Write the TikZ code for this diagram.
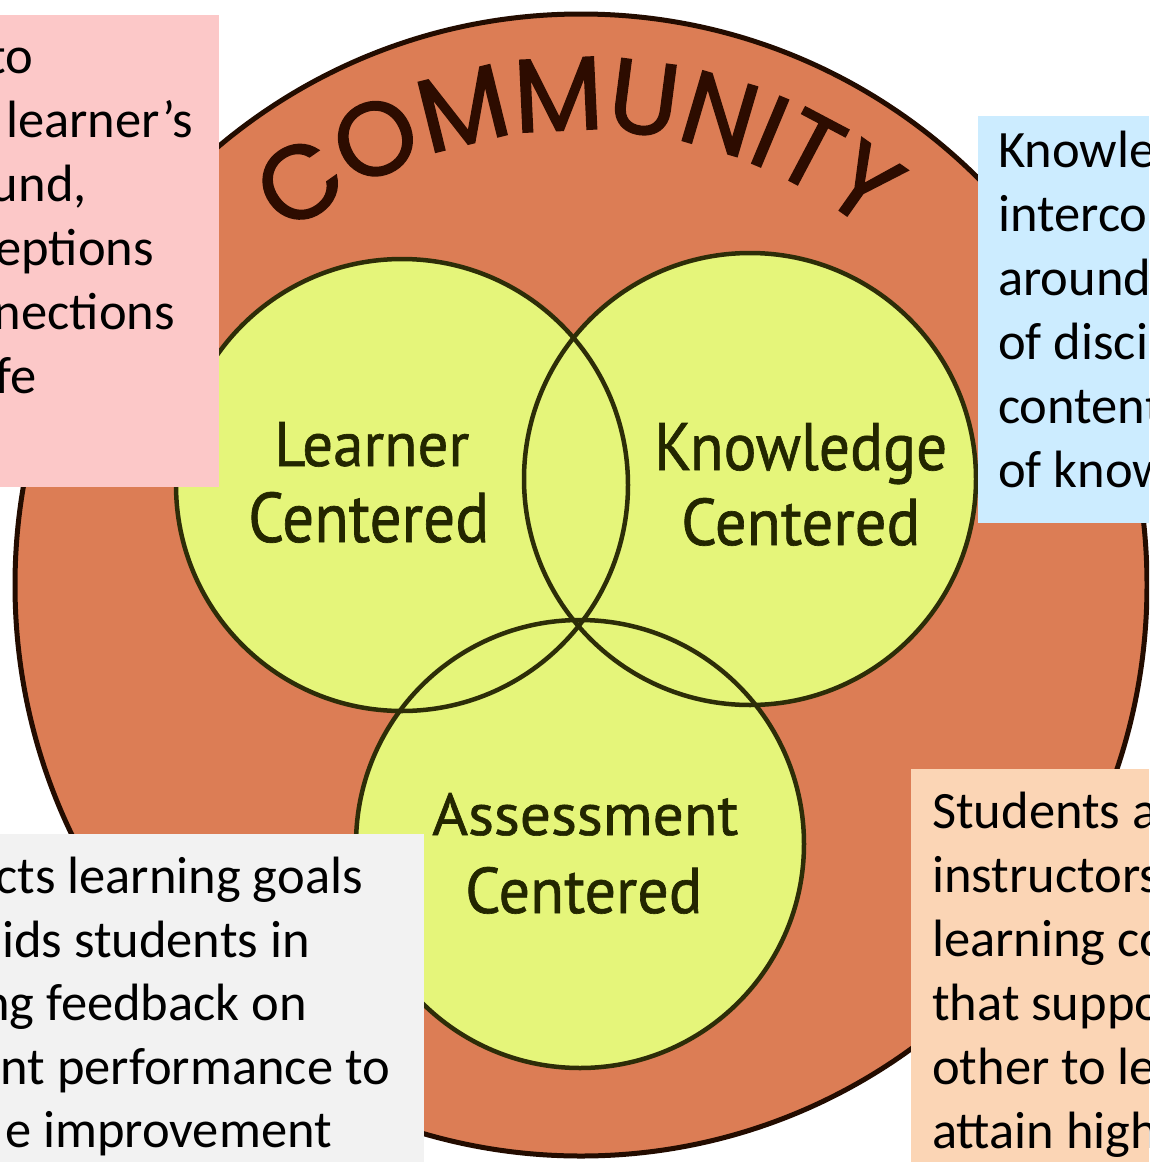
\documentclass[tikz,border=0pt]{standalone}
\usepackage{fontspec}
\usepackage{graphicx}
\setmainfont{Carlito}
\newfontfamily\labfont[FakeBold=1]{PT Sans}
\newfontfamily\commfont[FakeBold=1.5]{Poppins}
\usetikzlibrary{decorations.text,calc}
\definecolor{orangefill}{RGB}{220,125,85}
\definecolor{yellowfill}{RGB}{229,245,122}
\definecolor{outerline}{RGB}{35,12,0}
\definecolor{innerline}{RGB}{45,45,8}
\definecolor{labcol}{RGB}{35,38,0}
\definecolor{commcol}{RGB}{45,12,0}
\definecolor{pinkbox}{RGB}{252,200,200}
\definecolor{bluebox}{RGB}{204,236,255}
\definecolor{greybox}{RGB}{242,242,242}
\definecolor{peachbox}{RGB}{251,213,181}
\begin{document}
\begin{tikzpicture}[x=1pt,y=-1pt,
  vennfill/.style={fill=yellowfill},
  vennline/.style={draw=innerline, line width=4.5pt},
  boxtext/.style={font=\fontsize{52.5}{64}\selectfont, text=black, inner sep=0pt},
  lab/.style={font=\labfont, text=labcol, inner sep=0pt, anchor=base west},
]
\useasboundingbox (0,0) rectangle (1149,1162);
\clip (0,0) rectangle (1149,1162);
\fill[white] (0,0) rectangle (1149,1162);
% community ellipse
\filldraw[fill=orangefill, draw=outerline, line width=5pt] (581,585) ellipse [x radius=566, y radius=571];
% three circles
\fill[vennfill] (402,485) circle (226);
\fill[vennfill] (750,479) circle (226);
\fill[vennfill] (580,844) circle (224);
\draw[vennline] (402,485) circle (226);
\draw[vennline] (750,479) circle (226);
\draw[vennline] (580,844) circle (224);
% COMMUNITY
\path[decorate, decoration={text along path,
   text={|\commfont\fontsize{104}{104}\selectfont\color{commcol}|COMMUNITY},
   text align={fit to path}}]
   ($(581,585)+(-130:455)$) arc[start angle=-130, end angle=-51, radius=455];
% labels
\node[lab] (l1) at (274,466) {\resizebox{195pt}{44pt}{Learner}};
\node[lab] (l2) at (248,542) {\resizebox{241pt}{50pt}{Centered}};
\node[lab] (k1) at (654,470) {\resizebox{293pt}{47pt}{Knowledge}};
\node[lab] (k2) at (681,545) {\resizebox{239pt}{47pt}{Centered}};
\node[lab] (a1) at (432,835) {\resizebox{306pt}{42pt}{Assessment}};
\node[lab] (a2) at (465,913) {\resizebox{237pt}{46pt}{Centered}};
% boxes
\fill[pinkbox] (0,15) rectangle (219,487);
\fill[bluebox] (978,116) rectangle (1149,523);
\fill[greybox] (0,834) rectangle (424,1162);
\fill[peachbox] (911,769) rectangle (1149,1162);
% pink box text
\begin{scope}
\clip (0,15) rectangle (219,487);
\node[boxtext, anchor=base east] (p1) at (33,73) {to};
\node[boxtext, anchor=base west] (p2) at (6,137) {learner’s};
\node[boxtext, anchor=base east] (p3) at (87,201) {und,};
\node[boxtext, anchor=base east] (p4) at (154,265) {eptions};
\node[boxtext, anchor=base east] (p5) at (175,329) {nections};
\node[boxtext, anchor=base east] (p6) at (37,393) {fe};
\end{scope}
% blue box text
\begin{scope}
\clip (978,116) rectangle (1149,523);
\node[boxtext, anchor=base west] (b1) at (998,167) {Knowle};
\node[boxtext, anchor=base west] (b2) at (998,231) {interco};
\node[boxtext, anchor=base west] (b3) at (998,295) {around};
\node[boxtext, anchor=base west] (b4) at (998,359) {of disci};
\node[boxtext, anchor=base west] (b5) at (998,423) {content};
\node[boxtext, anchor=base west] (b6) at (998,487) {of know};
\end{scope}
% grey box text
\begin{scope}
\clip (0,834) rectangle (424,1162);
\node[boxtext, anchor=base east] (g1) at (363,893) {cts learning goals};
\node[boxtext, anchor=base west] (g2) at (2,957) {ids students in};
\node[boxtext, anchor=base east] (g3) at (307,1020) {ng feedback on};
\node[boxtext, anchor=base east] (g4) at (390,1084) {nt performance to};
\node[boxtext, anchor=base east] (g5) at (332,1147) {e improvement};
\end{scope}
% peach box text
\begin{scope}
\clip (911,769) rectangle (1149,1162);
\node[boxtext, anchor=base west] (s1) at (932,828) {Students a};
\node[boxtext, anchor=base west] (s2) at (932,892) {instructors};
\node[boxtext, anchor=base west] (s3) at (932,956) {learning co};
\node[boxtext, anchor=base west] (s4) at (932,1020) {that suppo};
\node[boxtext, anchor=base west] (s5) at (932,1084) {other to le};
\node[boxtext, anchor=base west] (s6) at (932,1148) {attain high};
\end{scope}
\end{tikzpicture}
\end{document}
